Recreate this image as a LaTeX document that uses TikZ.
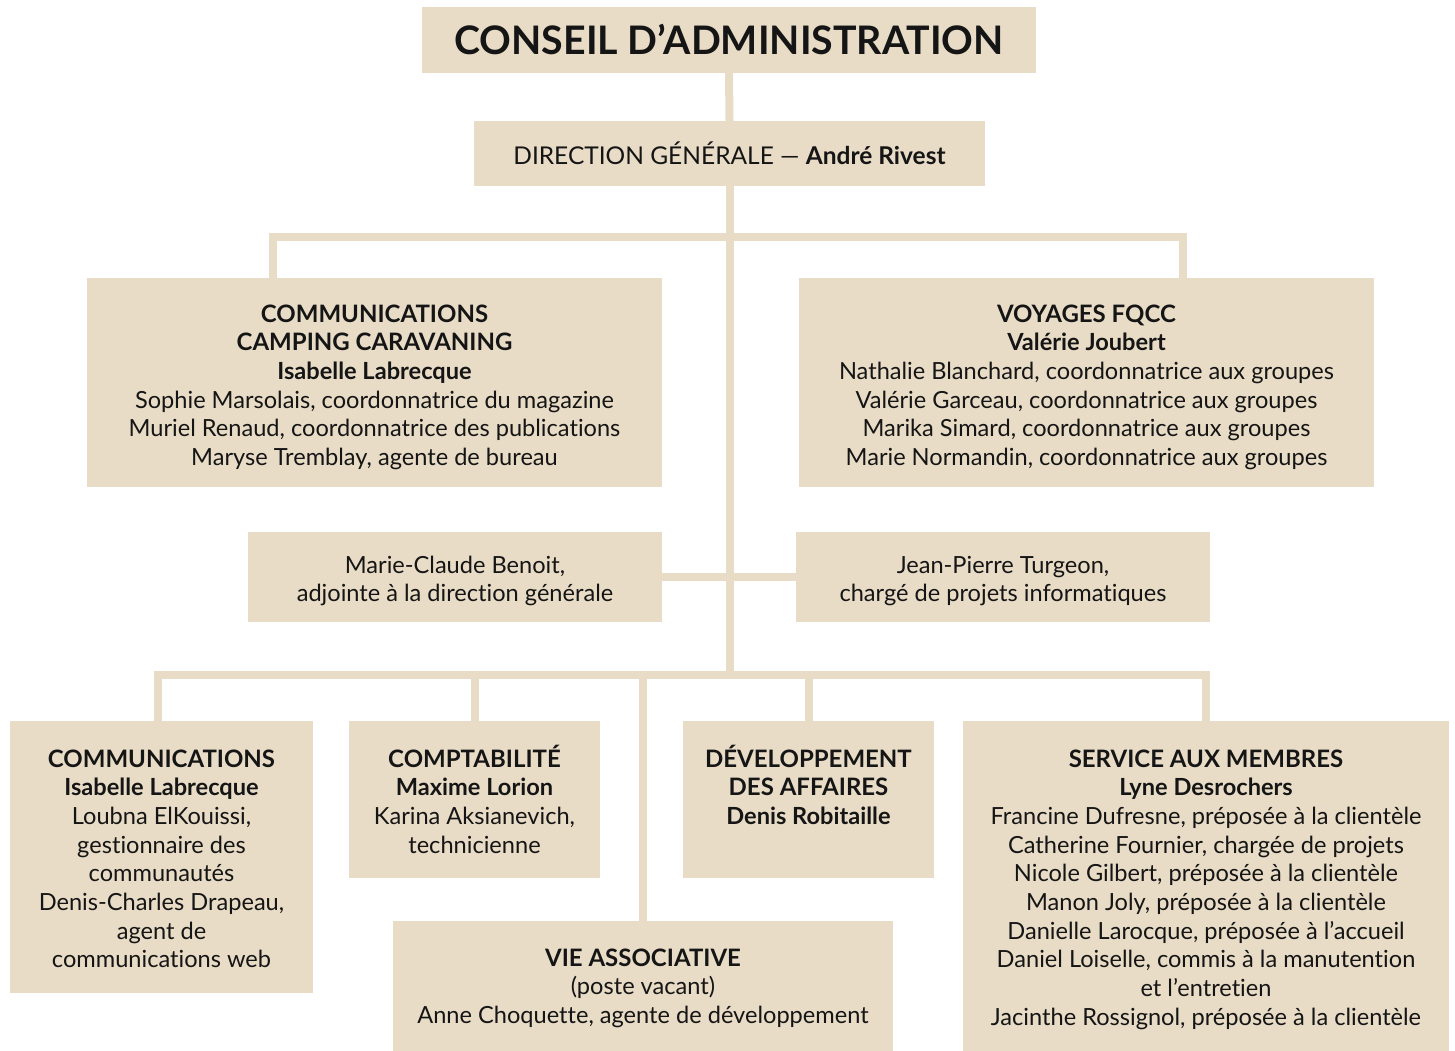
\documentclass[tikz,border=0pt]{standalone}
\usepackage{fontspec}
\setmainfont{Lato}[Ligatures=NoCommon]
\definecolor{beige}{HTML}{E8DCC6}
\definecolor{ink}{HTML}{151515}
\newcommand{\hd}[1]{{\fontsize{24}{28.7}\selectfont\bfseries #1}}
\begin{document}
\begin{tikzpicture}[x=1pt,y=-1pt,
  box/.style={fill=beige, draw=none, inner sep=0pt, outer sep=0pt, anchor=north west},
  txt/.style={align=center, text=ink, font=\fontsize{23.6}{28.7}\selectfont, inner sep=0pt, anchor=base},
  conn/.style={draw=beige, line width=8pt, line join=miter}]
\useasboundingbox (0,0) rectangle (1455,1051);

% boxes
\node[box, minimum width=614, minimum height=66] (ca) at (422,7) {};
\node[box, minimum width=511, minimum height=65] (dg) at (474,121) {};
\node[box, minimum width=575, minimum height=209] (cc) at (87,278) {};
\node[box, minimum width=575, minimum height=209] (vf) at (799,278) {};
\node[box, minimum width=414, minimum height=90] (mc) at (248,532) {};
\node[box, minimum width=414, minimum height=90] (jp) at (796,532) {};
\node[box, minimum width=303, minimum height=272] (cm) at (10,721) {};
\node[box, minimum width=251, minimum height=157] (cp) at (349,721) {};
\node[box, minimum width=251, minimum height=157] (dv) at (683,721) {};
\node[box, minimum width=486, minimum height=330] (sv) at (963,721) {};
\node[box, minimum width=500, minimum height=130] (va) at (393,921) {};

% connectors
\coordinate (ubl) at (273,237);
\coordinate (ubr) at (1183,237);
\coordinate (lbl) at (158,675);
\coordinate (lbr) at (1206,675);
\draw[conn] (ca.south) -- (dg.north);
\draw[conn] (dg.south) -- (dg.south |- lbl);
\draw[conn] (cc.north -| ubl) -- (ubl) -- (ubr) -- (vf.north -| ubr);
\draw[conn] (mc.east) -- (jp.west);
\draw[conn] (cm.north -| lbl) -- (lbl) -- (lbr) -- (sv.north);
\draw[conn] (cp.north) -- (cp.north |- lbl);
\draw[conn] (dv.north) -- (dv.north |- lbl);
\draw[conn] (va.north) -- (va.north |- lbl);

% texts
\node[txt, anchor=center, font=\fontsize{39.3}{44}\selectfont\bfseries] (cat) at ([yshift=1]ca.center) {CONSEIL D’ADMINISTRATION};
\node[txt, anchor=center, font=\fontsize{24.5}{29}\selectfont] (dgt) at (dg.center) {DIRECTION GÉNÉRALE — \textbf{André Rivest}};

\node[txt] (cct) at (374.5,465.5) {\hd{COMMUNICATIONS}\\ \hd{CAMPING CARAVANING}\\ \textbf{Isabelle Labrecque}\\ Sophie Marsolais, coordonnatrice du magazine\\ Muriel Renaud, coordonnatrice des publications\\ Maryse Tremblay, agente de bureau};
\node[txt] (vft) at (1086.5,465.5) {\hd{VOYAGES FQCC}\\ \textbf{Valérie Joubert}\\ Nathalie Blanchard, coordonnatrice aux groupes\\ Valérie Garceau, coordonnatrice aux groupes\\ Marika Simard, coordonnatrice aux groupes\\ Marie Normandin, coordonnatrice aux groupes};

\node[txt] (mct) at (455,601.7) {Marie-Claude Benoit,\\ adjointe à la direction générale};
\node[txt] (jpt) at (1003,601.7) {Jean-Pierre Turgeon,\\ chargé de projets informatiques};

\node[txt] (cmt) at (161.5,967.9) {\hd{COMMUNICATIONS}\\ \textbf{Isabelle Labrecque}\\ Loubna ElKouissi,\\ gestionnaire des\\ communautés\\ Denis-Charles Drapeau,\\ agent de\\ communications web};
\node[txt] (cpt) at (474.5,853.1) {\hd{COMPTABILITÉ}\\ \textbf{Maxime Lorion}\\ Karina Aksianevich,\\ technicienne};
\node[txt] (dvt) at (808.5,824.4) {\hd{DÉVELOPPEMENT}\\ \hd{DES AFFAIRES}\\ \textbf{Denis Robitaille}};
\node[txt] (svt) at (1206,1025.3) {\hd{SERVICE AUX MEMBRES}\\ \textbf{Lyne Desrochers}\\ Francine Dufresne, préposée à la clientèle\\ Catherine Fournier, chargée de projets\\ Nicole Gilbert, préposée à la clientèle\\ Manon Joly, préposée à la clientèle\\ Danielle Larocque, préposée à l’accueil\\ Daniel Loiselle, commis à la manutention\\ et l’entretien\\ Jacinthe Rossignol, préposée à la clientèle};
\node[txt] (vat) at (643,1023.4) {\hd{VIE ASSOCIATIVE}\\ (poste vacant)\\ Anne Choquette, agente de développement};
\end{tikzpicture}
\end{document}
